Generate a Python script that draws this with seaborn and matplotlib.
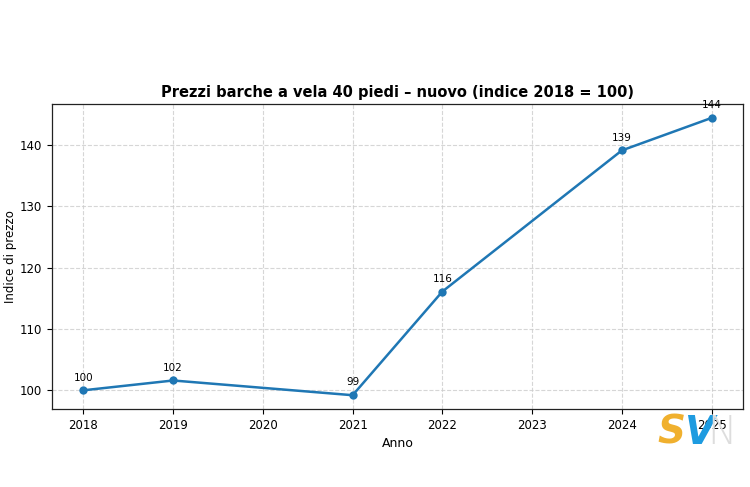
import matplotlib
matplotlib.use("Agg")
import matplotlib.pyplot as plt
import seaborn as sns
import pandas as pd

anni = [2018, 2019, 2021, 2022, 2024, 2025]
indice = [100.0, 101.6, 99.2, 116.1, 139.1, 144.4]
etichette = ["100", "102", "99", "116", "139", "144"]

sns.set_style("ticks", {"text.color": "black", "axes.labelcolor": "black",
                        "xtick.color": "black", "ytick.color": "black",
                        "axes.edgecolor": "black"})
plt.rcParams['font.family'] = ['DejaVu Sans']

df = pd.DataFrame({"Anno": anni, "Indice": indice})

fig = plt.figure(figsize=(7.5, 4.87), dpi=100)
ax = fig.add_axes([0.0693, 0.160, 0.9214, 0.6264])
sns.lineplot(data=df, x="Anno", y="Indice", marker="o", markersize=6,
             markeredgewidth=0, color="#1f77b4", linewidth=1.8, ax=ax)
for x, y, t in zip(anni, indice, etichette):
    ax.annotate(t, (x, y), textcoords="offset points", xytext=(0, 7),
                ha="center", fontsize=7.5, color="black")
ax.set_xticks(range(2018, 2026))
ax.set_yticks([100, 110, 120, 130, 140])
ax.tick_params(labelsize=8.5, colors="black")
ax.grid(True, linestyle="--", color="#cccccc", linewidth=0.8, alpha=0.8)
ax.set_xlabel("Anno", fontsize=9)
ax.set_ylabel("Indice di prezzo", fontsize=8.5, labelpad=2)
ax.set_title("Prezzi barche a vela 40 piedi – nuovo (indice 2018 = 100)",
             fontsize=10.5, fontweight="bold", pad=5)
for s in ax.spines.values():
    s.set_color("#222222")
    s.set_linewidth(0.9)

fig.text(0.876, 0.072, "S", fontsize=28, fontweight="bold", color="#F0B02E",
         ha="left", va="bottom", style="italic")
fig.text(0.912, 0.072, "V", fontsize=28, fontweight="bold", color="#1E9BE0",
         ha="left", va="bottom", style="italic")
fig.text(0.943, 0.072, "N", fontsize=28, fontweight="light", color="#dddddd",
         ha="left", va="bottom")

fig.savefig("out.png", dpi=100)
